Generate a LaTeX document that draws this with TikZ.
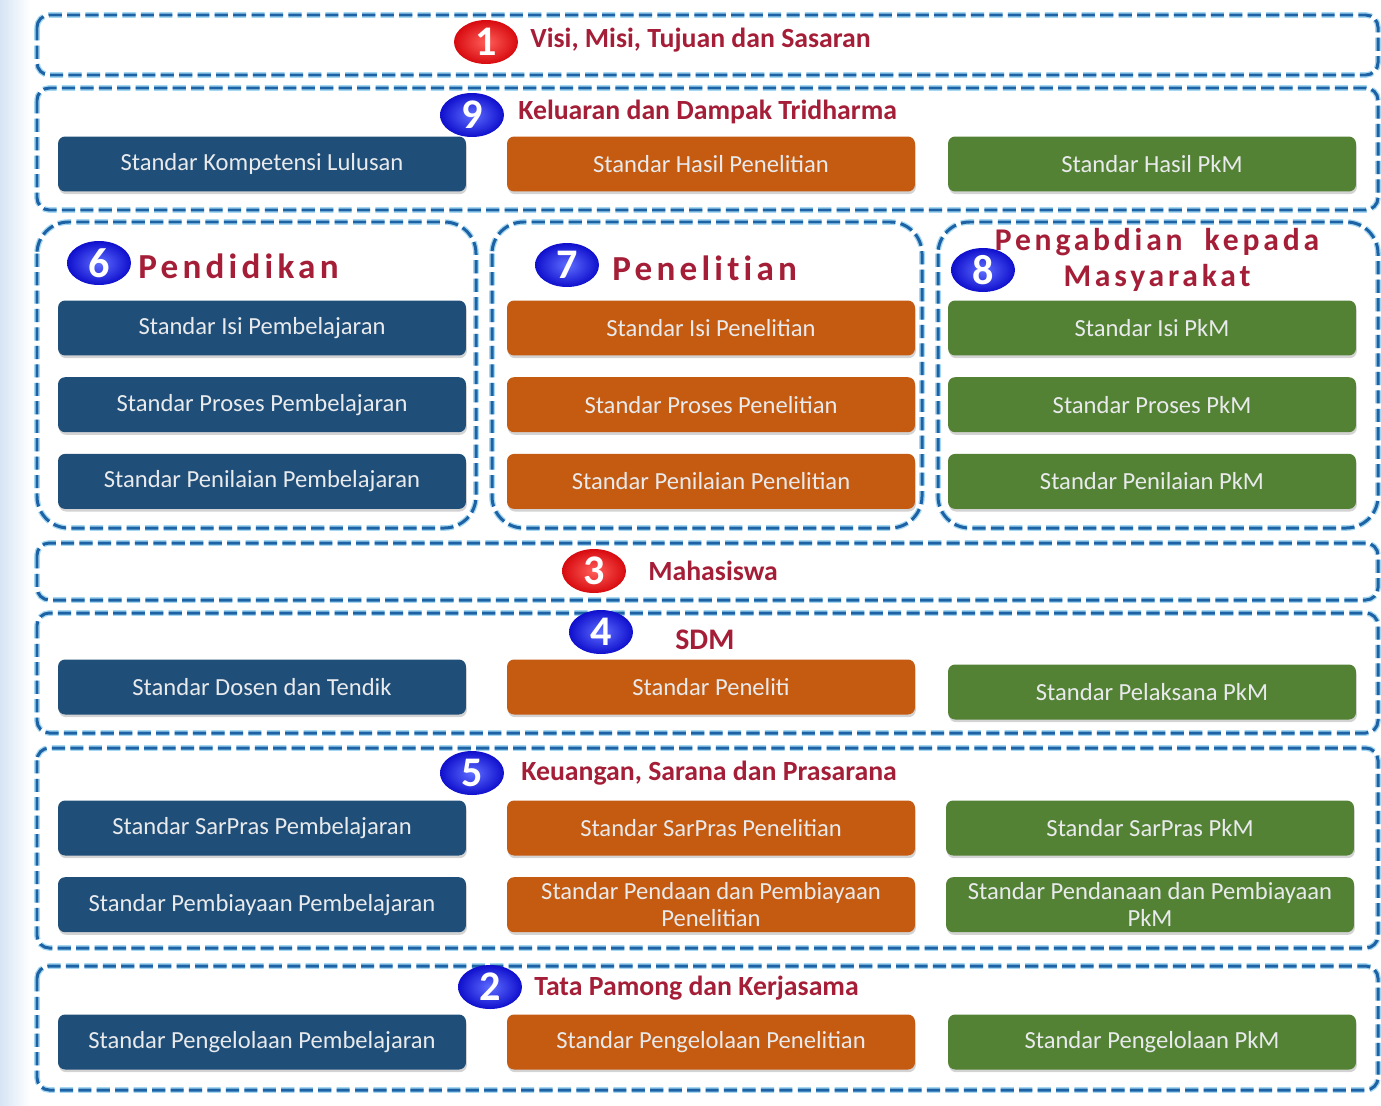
\documentclass[tikz,border=0pt]{standalone}
\usepackage{fontspec}
\setmainfont{Carlito}
\newfontfamily\spacedfont[LetterSpace=12, Ligatures=NoCommon]{Carlito}
\usepackage{tikz}
\usetikzlibrary{shapes.geometric, positioning, shadows}
\definecolor{mynavy}{RGB}{31,78,121}
\definecolor{myorange}{RGB}{197,90,17}
\definecolor{mygreen}{RGB}{84,130,53}
\definecolor{mydash}{RGB}{28,98,165}
\definecolor{mydashlt}{RGB}{165,215,240}
\definecolor{mytitle}{RGB}{165,30,55}
\definecolor{mybadgered}{RGB}{215,10,15}
\definecolor{mybadgeredlt}{RGB}{255,95,90}
\definecolor{mybadgeblue}{RGB}{15,15,205}
\definecolor{mybadgebluelt}{RGB}{95,110,255}
\definecolor{myboxtext}{RGB}{232,234,236}
\definecolor{mystrip}{RGB}{214,228,244}
\tikzset{
  grp/.style={draw=mydash, line width=1.7pt, dash pattern=on 7.5pt off 3pt,
    rounded corners=7pt,
    preaction={draw=mydashlt, line width=3.2pt, dash pattern=on 7.5pt off 3pt}},
  colgrp/.style={grp, rounded corners=18pt},
  stdbox/.style={rectangle, rounded corners=4pt, minimum width=8.16cm,
    minimum height=1.1cm, align=center, inner sep=1pt, text=myboxtext,
    font=\fontsize{14}{15.5}\selectfont,
    drop shadow={shadow xshift=0.5pt, shadow yshift=-1.5pt, opacity=0.35}},
  bluebox/.style={stdbox, fill=mynavy},
  orangebox/.style={stdbox, fill=myorange},
  greenbox/.style={stdbox, fill=mygreen},
  redbadge/.style={ellipse, minimum width=1.28cm, minimum height=0.88cm,
    inner sep=0pt, inner color=mybadgeredlt, outer color=mybadgered,
    text=white, font=\fontsize{24}{24}\selectfont\bfseries},
  bluebadge/.style={redbadge, inner color=mybadgebluelt, outer color=mybadgeblue},
  grptitle/.style={anchor=west, inner sep=0pt, text=mytitle,
    font=\fontsize{15.8}{17}\selectfont\bfseries},
  coltitle/.style={anchor=west, inner sep=0pt, text=mytitle,
    font=\fontsize{20}{22}\spacedfont\bfseries}
}
\begin{document}
\begin{tikzpicture}[x=0.02cm, y=-0.02cm]
  \useasboundingbox (0,0) rectangle (1381,1105);
  \fill[left color=mystrip, right color=white] (0,0) rectangle (30,1105);

  \draw[grp] (37,15) rectangle (1378,75);
  \draw[grp] (37,88) rectangle (1378,210);
  \draw[colgrp] (37,222) rectangle (476,528);
  \draw[colgrp] (492,222) rectangle (922,528);
  \draw[colgrp] (938,222) rectangle (1378,528);
  \draw[grp] (37,543) rectangle (1378,600);
  \draw[grp] (37,613) rectangle (1378,733);
  \draw[grp] (37,748) rectangle (1378,948);
  \draw[grp] (37,966) rectangle (1378,1090);

  % 1
  \node[redbadge] (b1) at (486,42) {1};
  \node[grptitle] (t1) at (530,40) {Visi, Misi, Tujuan dan Sasaran};

  % 9
  \node[bluebadge] (b9) at (472,115) {9};
  \node[grptitle] (t9) at (518,112) {Keluaran dan Dampak Tridharma};
  \node[bluebox] (lulusan) at (262,164) {Standar Kompetensi Lulusan};
  \node[orangebox] (hasilpen) at (711,164) {Standar Hasil Penelitian};
  \node[greenbox] (hasilpkm) at (1152,164) {Standar Hasil PkM};

  % 6 7 8
  \node[bluebadge] (b6) at (99,263) {6};
  \node[coltitle] (t6) at (138,266) {Pendidikan};
  \node[bluebadge] (b7) at (567,265) {7};
  \node[coltitle] (t7) at (612,268) {Penelitian};
  \node[bluebadge] (b8) at (983,270) {8};
  \node[coltitle, anchor=center, align=center,
    font=\fontsize{18}{20.5}\spacedfont\bfseries] (t8) at (1157,260)
    {Pengabdian\hspace{0.35em} kepada\\Masyarakat};

  \node[bluebox] (isipem) at (262,328) {Standar Isi Pembelajaran};
  \node[bluebox, below=0.42cm of isipem] (prosespem) {Standar Proses Pembelajaran};
  \node[bluebox, below=0.42cm of prosespem] (nilaipem) {Standar Penilaian Pembelajaran};
  \node[orangebox] (isipen) at (711,328) {Standar Isi Penelitian};
  \node[orangebox, below=0.42cm of isipen] (prosespen) {Standar Proses Penelitian};
  \node[orangebox, below=0.42cm of prosespen] (nilaipen) {Standar Penilaian Penelitian};
  \node[greenbox] (isipkm) at (1152,328) {Standar Isi PkM};
  \node[greenbox, below=0.42cm of isipkm] (prosespkm) {Standar Proses PkM};
  \node[greenbox, below=0.42cm of prosespkm] (nilaipkm) {Standar Penilaian PkM};

  % 3
  \node[redbadge] (b3) at (594,571) {3};
  \node[grptitle] (t3) at (648,571) {Mahasiswa};

  % 4
  \node[bluebadge] (b4) at (601,632) {4};
  \node[grptitle, font=\fontsize{17}{18}\selectfont\bfseries] (t4) at (675,640) {SDM};
  \node[bluebox] (dosen) at (262,687) {Standar Dosen dan Tendik};
  \node[orangebox] (peneliti) at (711,687) {Standar Peneliti};
  \node[greenbox] (pelaksana) at (1152,692) {Standar Pelaksana PkM};

  % 5
  \node[bluebadge] (b5) at (472,773) {5};
  \node[grptitle] (t5) at (521,773) {Keuangan, Sarana dan Prasarana};
  \node[bluebox] (sarpem) at (262,828) {Standar SarPras Pembelajaran};
  \node[bluebox, below=0.42cm of sarpem] (biayapem) {Standar Pembiayaan Pembelajaran};
  \node[orangebox] (sarpen) at (711,828) {Standar SarPras Penelitian};
  \node[orangebox, below=0.42cm of sarpen] (biayapen) {Standar Pendaan dan Pembiayaan\\Penelitian};
  \node[greenbox] (sarpkm) at (1150,828) {Standar SarPras PkM};
  \node[greenbox, below=0.42cm of sarpkm] (biayapkm) {Standar Pendanaan dan Pembiayaan\\PkM};

  % 2
  \node[bluebadge] (b2) at (490,987) {2};
  \node[grptitle] (t2) at (534,988) {Tata Pamong dan Kerjasama};
  \node[bluebox] (kelolapem) at (262,1042) {Standar Pengelolaan Pembelajaran};
  \node[orangebox] (kelolapen) at (711,1042) {Standar Pengelolaan Penelitian};
  \node[greenbox] (kelolapkm) at (1152,1042) {Standar Pengelolaan PkM};
\end{tikzpicture}
\end{document}
